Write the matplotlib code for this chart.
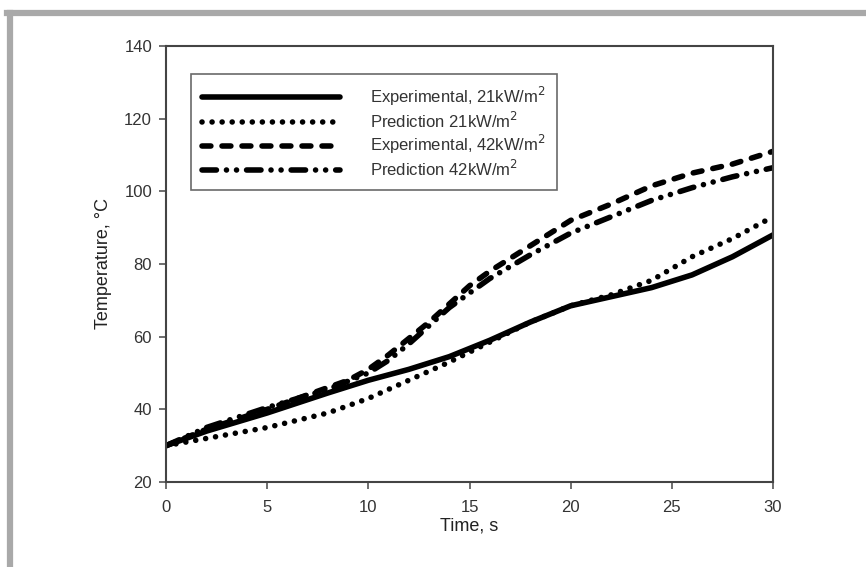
import matplotlib.pyplot as plt
from matplotlib.lines import Line2D

plt.rcParams['font.family'] = ['Liberation Sans', 'DejaVu Sans']

# values
t_exp21 = [0, 2, 5, 8, 10, 11, 12, 14, 16, 18, 20, 22, 24, 26, 28, 30]
T_exp21 = [30, 34, 39, 44.5, 48, 49.5, 51, 54.5, 59, 64, 68.5, 71, 73.5, 77, 82, 88]

t_pred21 = [0, 2, 5, 8, 10, 12, 14, 16, 18, 20, 22, 24, 26, 28, 30]
T_pred21 = [30, 32, 35, 39, 43, 48, 53, 58.5, 64, 68.5, 71.5, 75.5, 82, 87, 93]

t_exp42 = [0, 2, 5, 8, 9, 10, 11, 12, 13, 14, 15, 16, 18, 20, 22, 24, 26, 28, 30]
T_exp42 = [30, 34.5, 40, 46, 48, 51, 55, 59.5, 64, 69, 74, 78, 85, 92, 96.5, 101.5, 105, 107.5, 111]

t_pred42 = [0, 2, 5, 8, 10, 11, 12, 13, 14, 15, 16, 18, 20, 22, 24, 26, 28, 30]
T_pred42 = [30, 35, 40.5, 45.5, 50, 53.5, 58, 63, 68, 72, 76, 82.5, 88.5, 93, 97.5, 101, 104, 106.5]

labels = ['Experimental, 21kW/m$^2$', 'Prediction 21kW/m$^2$',
          'Experimental, 42kW/m$^2$', 'Prediction 42kW/m$^2$']
x_ticks = [0, 5, 10, 15, 20, 25, 30]
y_ticks = [20, 40, 60, 80, 100, 120, 140]

fig = plt.figure(figsize=(8.66, 5.67), dpi=100)
ax = fig.add_axes([0.1917, 0.1499, 0.7009, 0.769])

lw = 4
styles = [
    dict(linestyle='-'),
    dict(linestyle=(0, (0.01, 1.8))),
    dict(linestyle=(0, (1.6, 2.0))),
    dict(linestyle=(0, (2.6, 1.8, 0.01, 1.8, 0.01, 1.8))),
]
series = [(t_exp21, T_exp21), (t_pred21, T_pred21), (t_exp42, T_exp42), (t_pred42, T_pred42)]
for (t, T), st, lab in zip(series, styles, labels):
    ax.plot(t, T, color='black', lw=lw, dash_capstyle='round',
            solid_capstyle='round', label=lab, **st)

ax.set_xlim(0, 30)
ax.set_ylim(20, 140)
ax.set_xticks(x_ticks)
ax.set_yticks(y_ticks)
ax.tick_params(direction='out', length=5, width=1.2, color='#555555',
               labelcolor='#333333', labelsize=12)
ax.tick_params(axis='x', pad=8)
ax.tick_params(axis='y', pad=5)
for s in ax.spines.values():
    s.set_color('#444444')
    s.set_linewidth(1.5)
ax.set_xlabel('Time, s', fontsize=13, color='#222222', labelpad=2)
ax.set_ylabel('Temperature, \u00b0C', fontsize=13, color='#222222', labelpad=9)

leg = ax.legend(loc='upper left', bbox_to_anchor=(0.041, 0.935), fontsize=12,
                frameon=True, fancybox=False, edgecolor='#444444',
                handlelength=8.3, handletextpad=1.8, labelspacing=0.15,
                borderpad=0.65, borderaxespad=0)
leg.get_frame().set_linewidth(1.2)
for txt in leg.get_texts():
    txt.set_color('#333333')

# grey frame at top and left
fig.add_artist(Line2D([7 / 866, 1], [1 - 13 / 567, 1 - 13 / 567], color='#a9a9a9', lw=4.5))
fig.add_artist(Line2D([10 / 866, 10 / 866], [0, 1 - 13 / 567], color='#a9a9a9', lw=4.5))

fig.savefig('out.png', dpi=100)
